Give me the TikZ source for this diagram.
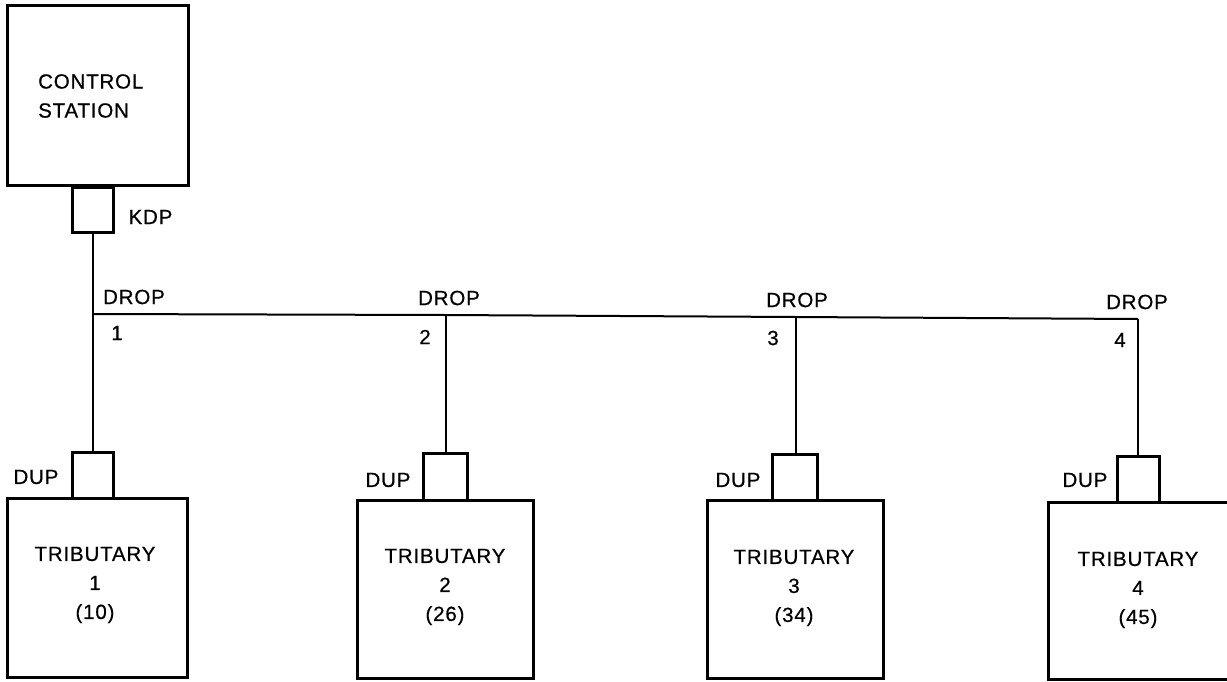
\documentclass[tikz,border=0pt]{standalone}
\usepackage{fontspec}
\setmainfont{Liberation Sans}[LetterSpace=4.0, FakeBold=0.6]
\begin{document}
\begin{tikzpicture}[x=1pt,y=-1pt,
  unit/.style={draw, line width=3pt, inner sep=0pt, rectangle},
  port/.style={draw, line width=3pt, inner sep=0pt, rectangle},
  wire/.style={line width=2pt},
  lbl/.style={inner sep=0pt, font=\fontsize{20.5}{29}\selectfont},
  btext/.style={inner sep=0pt, align=center, font=\fontsize{20.5}{29}\selectfont}]
\useasboundingbox (0,0) rectangle (1227,681);
\clip (0,0) rectangle (1227,681);
% control station
\node[unit, minimum width=181pt, minimum height=180pt] (cs) at (97.5,95) {};
\node[lbl, align=left, anchor=west] (cstext) at (38,96) {CONTROL\\STATION};
\node[port, minimum width=41pt, minimum height=45pt] (kdp) at (92.5,209.5) {};
\node[lbl] (kdplbl) at (150.5,217) {KDP};
% drop points
\coordinate (d1) at (92.5,314);
\coordinate (d2) at (446,315);
\coordinate (d3) at (796,317);
\coordinate (d4) at (1138,319);
% DUP ports
\node[port, minimum width=41pt, minimum height=46pt] (dup1) at (92.5,475) {};
\node[port, minimum width=44pt, minimum height=47pt] (dup2) at (445,476.5) {};
\node[port, minimum width=45pt, minimum height=46pt] (dup3) at (794.5,477) {};
\node[port, minimum width=42pt, minimum height=46pt] (dup4) at (1138,479) {};
% tributaries
\node[unit, minimum width=180pt, minimum height=179pt] (t1) at (97,587.5) {};
\node[unit, minimum width=176pt, minimum height=178pt] (t2) at (445,589) {};
\node[unit, minimum width=176pt, minimum height=178pt] (t3) at (795,589) {};
\node[unit, minimum width=184pt, minimum height=177pt] (t4) at (1140,590.5) {};
\node[btext] (t1text) at (95,585) {TRIBUTARY\\1\\(10)};
\node[btext] (t2text) at (445,587) {TRIBUTARY\\2\\(26)};
\node[btext] (t3text) at (794,588) {TRIBUTARY\\3\\(34)};
\node[btext] (t4text) at (1138,590) {TRIBUTARY\\4\\(45)};
% wires
\draw[wire] (kdp.south) -- (d1) -- (dup1.north);
\draw[wire] (d1) -- (d2) -- (d3) -- (d4);
\draw[wire] (d2) -- (d2 |- dup2.north);
\draw[wire] (d3) -- (d3 |- dup3.north);
\draw[wire] (d4) -- (dup4.north);
% labels
\node[lbl] (drop1) at (134,297) {DROP};
\node[lbl] (drop2) at (449,298) {DROP};
\node[lbl] (drop3) at (797,300) {DROP};
\node[lbl] (drop4) at (1137,302) {DROP};
\node[lbl] (n1) at (117,333) {1};
\node[lbl] (n2) at (425,337) {2};
\node[lbl] (n3) at (773,338) {3};
\node[lbl] (n4) at (1120,340) {4};
\node[lbl] (dupl1) at (36,477) {DUP};
\node[lbl] (dupl2) at (388,480) {DUP};
\node[lbl] (dupl3) at (738,480) {DUP};
\node[lbl] (dupl4) at (1085,480) {DUP};
\end{tikzpicture}
\end{document}
